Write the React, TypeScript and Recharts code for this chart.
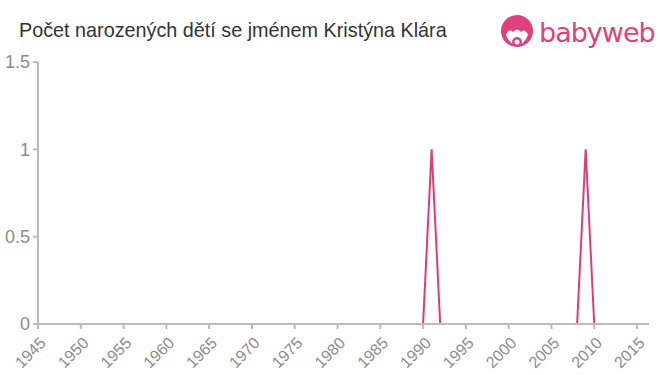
import { LineChart, Line, XAxis, YAxis } from "recharts";

const years = [
  1945, 1946, 1947, 1948, 1949, 1950, 1951, 1952, 1953, 1954, 1955, 1956,
  1957, 1958, 1959, 1960, 1961, 1962, 1963, 1964, 1965, 1966, 1967, 1968,
  1969, 1970, 1971, 1972, 1973, 1974, 1975, 1976, 1977, 1978, 1979, 1980,
  1981, 1982, 1983, 1984, 1985, 1986, 1987, 1988, 1989, 1990, 1991, 1992,
  1993, 1994, 1995, 1996, 1997, 1998, 1999, 2000, 2001, 2002, 2003, 2004,
  2005, 2006, 2007, 2008, 2009, 2010, 2011, 2012, 2013, 2014, 2015, 2016,
];

const births = [
  0, 0, 0, 0, 0, 0, 0, 0, 0, 0, 0, 0,
  0, 0, 0, 0, 0, 0, 0, 0, 0, 0, 0, 0,
  0, 0, 0, 0, 0, 0, 0, 0, 0, 0, 0, 0,
  0, 0, 0, 0, 0, 0, 0, 0, 0, 0, 1, 0,
  0, 0, 0, 0, 0, 0, 0, 0, 0, 0, 0, 0,
  0, 0, 0, 0, 1, 0, 0, 0, 0, 0, 0, 0,
];

const xTicks = [1945, 1950, 1955, 1960, 1965, 1970, 1975, 1980, 1985, 1990, 1995, 2000, 2005, 2010, 2015];
const yTicks = [0, 0.5, 1, 1.5];

const data = years.map((year, i) => ({ year, count: births[i] }));

const PINK = "#de3c72";
const AXIS = "#bbbbbb";
const FONT = "'Liberation Sans', Arial, sans-serif";

const XTick = ({ x, y, payload }: any) => (
  <text
    x={x + 5}
    y={y + 9}
    transform={`rotate(-45, ${x + 5}, ${y + 9})`}
    textAnchor="end"
    dominantBaseline="central"
    fill="#8c8c8c"
    fontSize={16}
    fontFamily={FONT}
  >
    {payload.value}
  </text>
);

function Logo() {
  return (
    <div style={{ position: "absolute", left: 500, top: 15, display: "flex", alignItems: "center" }}>
      <svg width={34} height={36} viewBox="0 0 34 36">
        <circle cx={17} cy={16} r={16} fill="#e0407e" />
        <path d="M6 20 Q9 13 13 17 Q17 12 21 17 Q25 13 28 20 Q24 30 17 30 Q10 30 6 20 Z" fill="#fff" />
        <circle cx={17} cy={27} r={5} fill="#e0407e" />
        <circle cx={17} cy={27} r={2.5} fill="#fff" />
      </svg>
      <span
        style={{
          fontFamily: "'DejaVu Sans', 'Noto Sans', sans-serif",
          fontSize: 27,
          color: "#e0407e",
          marginLeft: 5,
          letterSpacing: -1,
          lineHeight: "30px",
        }}
      >
        babyweb
      </span>
    </div>
  );
}

export default function App() {
  return (
    <div style={{ position: "absolute", left: 0, top: 0, width: 660, height: 375, background: "#fff" }}>
      <div
        style={{
          position: "absolute",
          left: 19,
          top: 19,
          fontFamily: FONT,
          fontSize: 19.8,
          color: "#333",
          whiteSpace: "nowrap",
        }}
      >
        Počet narozených dětí se jménem Kristýna Klára
      </div>
      <Logo />
      <LineChart width={660} height={375} data={data} margin={{ top: 62, right: 11, left: 0, bottom: 0 }}>
        <XAxis
          dataKey="year"
          type="number"
          domain={[1945, 2016.4]}
          ticks={xTicks}
          interval={0}
          stroke={AXIS}
          strokeWidth={2}
          tickSize={5}
          tick={<XTick />}
          height={51}
        />
        <YAxis
          type="number"
          domain={[0, 1.5]}
          ticks={yTicks}
          width={38}
          stroke={AXIS}
          strokeWidth={2}
          tickSize={5}
          tickMargin={3}
          tick={{ fill: "#8c8c8c", fontSize: 18, fontFamily: FONT }}
        />
        <Line
          type="linear"
          dataKey="count"
          stroke={PINK}
          strokeWidth={2}
          dot={false}
          isAnimationActive={false}
        />
      </LineChart>
    </div>
  );
}
